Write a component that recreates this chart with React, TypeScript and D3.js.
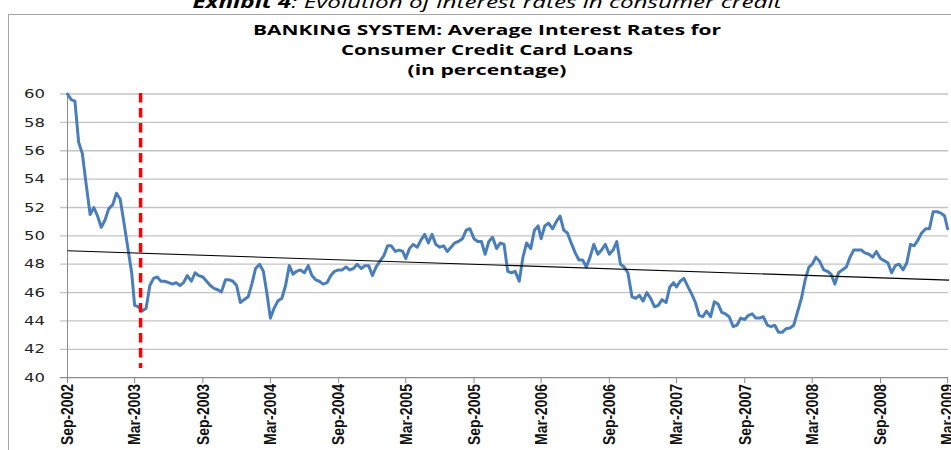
import React from 'react';
import * as d3 from 'd3';

// Average interest rate on consumer credit card loans, 3 readings per month (days 1, 11, 21)
// starting Sep-2002.
const rates = [
  60.0, 59.6, 59.5, // Sep-02
  56.6, 55.8, 53.7,
  51.5, 52.0, 51.4,
  50.6, 51.1, 51.9,
  52.2, 53.0, 52.6, // Jan-03
  50.8, 49.1, 47.4,
  45.1, 45.0, 44.7,
  44.9, 46.5, 47.0,
  47.1, 46.8, 46.8,
  46.7, 46.6, 46.7,
  46.5, 46.7, 47.2, // Jul-03
  46.8, 47.4, 47.2,
  47.1, 46.8, 46.5,
  46.3, 46.2, 46.05,
  46.9, 46.9, 46.8,
  46.5, 45.3, 45.5,
  45.7, 46.6, 47.7, // Jan-04
  48.0, 47.5, 45.9,
  44.2, 44.9, 45.4,
  45.6, 46.5, 47.9,
  47.3, 47.5, 47.6,
  47.4, 47.9, 47.2,
  46.9, 46.8, 46.6, // Jul-04
  46.7, 47.2, 47.5,
  47.6, 47.6, 47.8,
  47.6, 47.7, 48.0,
  47.7, 47.9, 47.9,
  47.2, 47.8, 48.2,
  48.6, 49.3, 49.3, // Jan-05
  48.9, 49.0, 48.9,
  48.4, 49.1, 49.4,
  49.2, 49.7, 50.1,
  49.5, 50.1, 49.4,
  49.2, 49.3, 48.9,
  49.2, 49.5, 49.6, // Jul-05
  49.8, 50.4, 50.5,
  49.8, 49.6, 49.6,
  48.7, 49.6, 49.9,
  49.1, 49.5, 49.4,
  47.5, 47.4, 47.5,
  46.8, 48.5, 49.5, // Jan-06
  49.1, 50.4, 50.7,
  49.8, 50.7, 50.9,
  50.5, 51.0, 51.4,
  50.4, 50.2, 49.5,
  48.8, 48.3, 48.3,
  47.8, 48.5, 49.4, // Jul-06
  48.7, 49.0, 49.4,
  48.7, 49.0, 49.6,
  48.0, 47.8, 47.4,
  45.7, 45.6, 45.8,
  45.4, 46.0, 45.6,
  45.0, 45.1, 45.5, // Jan-07
  45.3, 46.4, 46.7,
  46.4, 46.8, 47.0,
  46.4, 45.9, 45.3,
  44.4, 44.3, 44.7,
  44.3, 45.35, 45.2,
  44.6, 44.5, 44.3, // Jul-07
  43.6, 43.7, 44.2,
  44.1, 44.4, 44.5,
  44.2, 44.2, 44.3,
  43.7, 43.6, 43.7,
  43.2, 43.2, 43.45,
  43.5, 43.7, 44.6, // Jan-08
  45.6, 46.9, 47.8,
  48.0, 48.5, 48.2,
  47.6, 47.5, 47.3,
  46.6, 47.4, 47.6,
  47.8, 48.5, 49.0,
  49.0, 49.0, 48.8, // Jul-08
  48.7, 48.5, 48.9,
  48.4, 48.25, 48.1,
  47.4, 47.9, 48.0,
  47.6, 48.1, 49.4,
  49.3, 49.7, 50.2,
  50.5, 50.5, 51.7, // Jan-09
  51.7, 51.6, 51.4,
  50.5, // Mar-09
];

const readingDays = [1, 11, 21];
const startYear = 2002;
const startMonth = 8; // September

const tickLabels = [
  'Sep-2002', 'Mar-2003', 'Sep-2003', 'Mar-2004', 'Sep-2004', 'Mar-2005', 'Sep-2005',
  'Mar-2006', 'Sep-2006', 'Mar-2007', 'Sep-2007', 'Mar-2008', 'Sep-2008', 'Mar-2009',
];
const yTicks = [40, 42, 44, 46, 48, 50, 52, 54, 56, 58, 60];

// linear trend, start and end values
const trendValues = [48.95, 46.88];
// vertical marker
const markerDate = '2003-03-17';

const titleLines = [
  'BANKING SYSTEM: Average Interest Rates for',
  'Consumer Credit Card Loans',
  '(in percentage)',
];

const W = 951;
const H = 450;

export default function App() {
  const parseTick = d3.timeParse('%b-%Y');
  const tickDates = tickLabels.map(t => parseTick(t) as Date);

  const points = rates.map((v, i) => ({
    date: new Date(startYear, startMonth + Math.floor(i / 3), readingDays[i % 3]),
    value: v,
  }));

  const x = d3.scaleTime()
    .domain([tickDates[0], tickDates[tickDates.length - 1]])
    .range([67.5, 947.6]);
  const y = d3.scaleLinear().domain([40, 60]).range([377.7, 94]);

  const line = d3.line<{ date: Date; value: number }>()
    .x(d => x(d.date))
    .y(d => y(d.value));

  const firstDate = points[0].date;
  const lastDate = points[points.length - 1].date;
  const mx = x(d3.timeParse('%Y-%m-%d')(markerDate) as Date);

  const font = "'Open Sans', 'Liberation Sans', sans-serif";

  return (
    <div style={{ position: 'absolute', left: 0, top: 0 }}>
      <svg width={W} height={H} style={{ display: 'block', background: '#fff' }}>
        {/* exhibit caption, cut by the top edge */}
        <text x={487} y={8} textAnchor="middle" fontFamily={font} fontSize={17}
          fontStyle="italic" fill="#000" textLength={589} lengthAdjust="spacingAndGlyphs">
          <tspan fontWeight="bold">Exhibit 4</tspan>
          <tspan>: Evolution of interest rates in consumer credit</tspan>
        </text>

        {/* chart frame */}
        <rect x={8.5} y={14.5} width={W + 20} height={H + 20} fill="none" stroke="#a6a6a6" />

        {titleLines.map((t, i) => (
          <text key={t} x={487} y={35 + i * 20} textAnchor="middle" fontFamily={font}
            fontSize={14} fontWeight="bold" fill="#000"
            textLength={[468, 292, 159][i]} lengthAdjust="spacingAndGlyphs">
            {t}
          </text>
        ))}

        {/* gridlines and y ticks */}
        {yTicks.map(v => (
          <g key={v}>
            <line x1={60} x2={948} y1={y(v)} y2={y(v)}
              stroke={v === 40 ? '#8c8c8c' : '#c4c4c4'} strokeWidth={1.3} />
            <text x={45} y={y(v)} dy="0.36em" textAnchor="end" fontFamily="'DejaVu Sans', Verdana, sans-serif"
              fontSize={11.5} fill="#222" textLength={21} lengthAdjust="spacingAndGlyphs">
              {v}
            </text>
          </g>
        ))}
        <line x1={67.5} x2={67.5} y1={y(60)} y2={y(40)} stroke="#8c8c8c" strokeWidth={1} />

        {/* x ticks and labels */}
        {tickDates.map((d, i) => (
          <g key={tickLabels[i]}>
            <line x1={x(d)} x2={x(d)} y1={y(40)} y2={y(40) + 5.5} stroke="#8c8c8c" />
            <text transform={`translate(${x(d)},384) scale(1.15,1) rotate(-90)`} dy="0.36em"
              textAnchor="end" fontFamily="'Liberation Sans', Arial, sans-serif" fontSize={14}
              fontWeight="bold" fill="#111" textLength={61} lengthAdjust="spacingAndGlyphs">
              {tickLabels[i]}
            </text>
          </g>
        ))}

        {/* series */}
        <path d={line(points) ?? ''} fill="none" stroke="#4a7ebb" strokeWidth={3}
          strokeLinejoin="round" strokeLinecap="round" />

        {/* trend line */}
        <line x1={x(firstDate)} x2={x(lastDate) + 1.5} y1={y(trendValues[0])} y2={y(trendValues[1])}
          stroke="#000" strokeWidth={1.1} />

        {/* dashed marker */}
        <line x1={mx} x2={mx} y1={93} y2={368} stroke="#ff0000" strokeWidth={3.5}
          strokeDasharray="9.5 5.5" />
      </svg>
    </div>
  );
}
